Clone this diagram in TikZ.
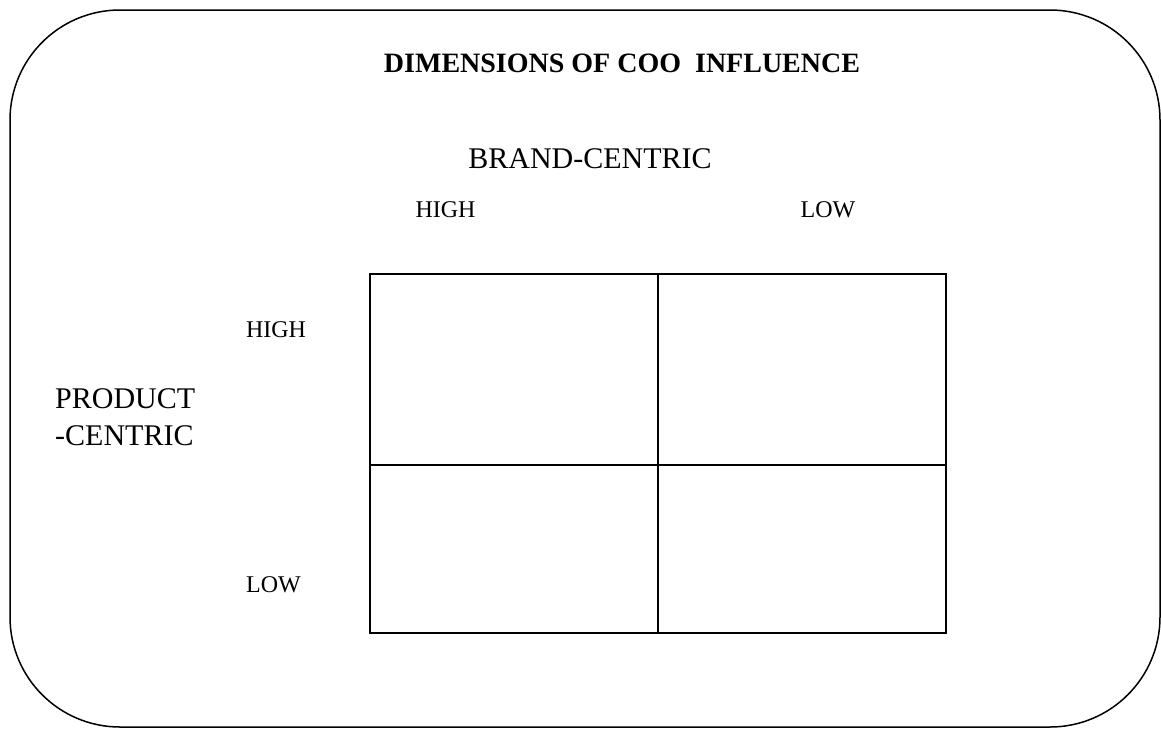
\documentclass[tikz,border=0pt]{standalone}
\usepackage{fontspec}
\setmainfont{Liberation Serif}

\begin{document}
\begin{tikzpicture}[x=1pt,y=-1pt,
    lbl/.style={anchor=base,inner sep=0pt,font=\fontsize{24}{28}\selectfont},
    axis/.style={inner sep=0pt,font=\fontsize{30}{37}\selectfont}]
    \useasboundingbox (0,0) rectangle (1161,729);
    \draw[line width=1.5pt,rounded corners=110pt] (10,10) rectangle (1160,727);

    \node[anchor=base,inner sep=0pt,font=\bfseries\fontsize{28}{34}\selectfont] (title) at (622,72) {DIMENSIONS OF COO\ \ INFLUENCE};
    \node[axis,anchor=base] (brand) at (590,168) {BRAND-CENTRIC};
    \node[lbl] (bhigh) at (445.5,217) {HIGH};
    \node[lbl] (blow) at (828,217) {LOW};

    \node[axis,anchor=base west,align=left] (prod) at (55,445) {PRODUCT\\-CENTRIC};
    \node[lbl] (phigh) at (276,337) {HIGH};
    \node[lbl] (plow) at (273.5,592) {LOW};

    % 2x2 grid
    \coordinate (nw) at (370,274);
    \coordinate (se) at (946,633);
    \draw[line width=1.5pt] (nw) rectangle (se);
    \draw[line width=1.5pt] (658,274) -- (658,633);
    \draw[line width=1.5pt] (370,465) -- (946,465);
\end{tikzpicture}
\end{document}
